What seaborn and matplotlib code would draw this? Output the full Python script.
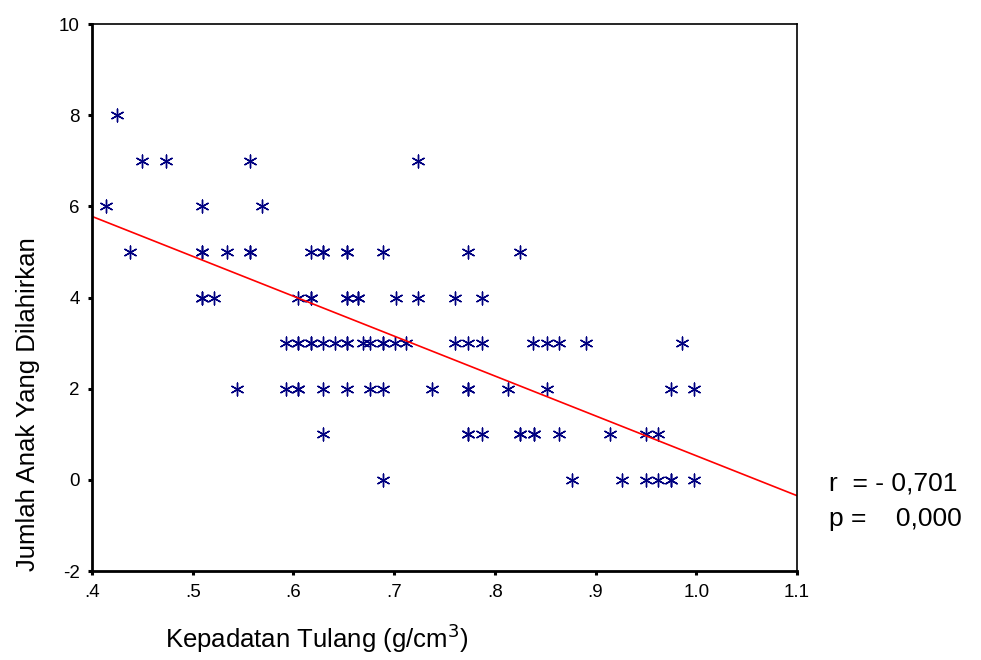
import seaborn as sns
import matplotlib.pyplot as plt
import pandas as pd

# bone density (g/cm3) and number of children born
y8 = [0.425]
y7 = [0.450, 0.473, 0.557, 0.724]
y6 = [0.414, 0.509, 0.569]
y5 = [0.438, 0.509, 0.509, 0.534, 0.557, 0.557, 0.617, 0.629, 0.629,
      0.653, 0.653, 0.689, 0.773, 0.825]
y4 = [0.509, 0.509, 0.521, 0.605, 0.617, 0.617, 0.653, 0.653, 0.664,
      0.664, 0.702, 0.724, 0.760, 0.787]
y3 = [0.593, 0.605, 0.605, 0.617, 0.617, 0.629, 0.641, 0.653, 0.653,
      0.669, 0.676, 0.689, 0.689, 0.701, 0.712, 0.760, 0.773, 0.787,
      0.838, 0.852, 0.864, 0.891, 0.986]
y2 = [0.544, 0.593, 0.605, 0.605, 0.629, 0.653, 0.676, 0.689, 0.738,
      0.773, 0.773, 0.813, 0.852, 0.975, 0.998]
y1 = [0.629, 0.773, 0.773, 0.787, 0.825, 0.825, 0.839, 0.839, 0.864,
      0.914, 0.950, 0.962]
y0 = [0.689, 0.877, 0.926, 0.950, 0.962, 0.975, 0.975, 0.998]

groups = {8: y8, 7: y7, 6: y6, 5: y5, 4: y4, 3: y3, 2: y2, 1: y1, 0: y0}
rows = [(x, k) for k, xs in groups.items() for x in xs]
df = pd.DataFrame(rows, columns=["kepadatan", "jumlah"])

x_ticks = [0.4, 0.5, 0.6, 0.7, 0.8, 0.9, 1.0, 1.1]
x_labels = [".4", ".5", ".6", ".7", ".8", ".9", "1.0", "1.1"]
y_ticks = [-2, 0, 2, 4, 6, 8, 10]

sns.set_style("white")
plt.rcParams["font.family"] = ["Liberation Sans", "DejaVu Sans"]
plt.rcParams["axes.unicode_minus"] = False
plt.rcParams["text.color"] = "black"
plt.rcParams["axes.labelcolor"] = "black"
plt.rcParams["xtick.color"] = "black"
plt.rcParams["ytick.color"] = "black"

fig = plt.figure(figsize=(9.81, 6.6), dpi=100)
ax = fig.add_axes([0.0938, 0.1348, 0.7186, 0.8288])
ax.set_xlim(0.4, 1.1)
ax.set_ylim(-2, 10)

sns.regplot(
    data=df,
    x="kepadatan",
    y="jumlah",
    ax=ax,
    ci=None,
    truncate=False,
    marker=(6, 2, 0),
    scatter_kws={"color": "#000080", "s": 85, "linewidths": 1.0, "alpha": 1},
    line_kws={"color": "red", "lw": 1.2},
)

ax.set_xticks(x_ticks)
ax.set_xticklabels(x_labels)
ax.set_yticks(y_ticks)
ax.tick_params(direction="out", length=3, width=2.2, labelsize=13.5,
               color="black", labelcolor="black", pad=6,
               bottom=True, left=True)

for side in ["left", "bottom"]:
    ax.spines[side].set_linewidth(2)
for side in ["top", "right"]:
    ax.spines[side].set_linewidth(1.2)
for s in ax.spines.values():
    s.set_color("black")

ax.set_xlabel("Kepadatan Tulang (g/cm$^3$)", fontsize=18.5)
ax.set_ylabel("Jumlah Anak Yang Dilahirkan", fontsize=18.5)
ax.xaxis.label.set_va("center")
ax.yaxis.label.set_va("center")
ax.xaxis.set_label_coords(0.319, -0.122)
ax.yaxis.set_label_coords(-0.091, 0.305)

fig.text(0.845, 0.268, "r  = - 0,701", fontsize=19, va="center")
fig.text(0.845, 0.213, "p =    0,000", fontsize=19, va="center")

fig.savefig("out.png", dpi=100)
